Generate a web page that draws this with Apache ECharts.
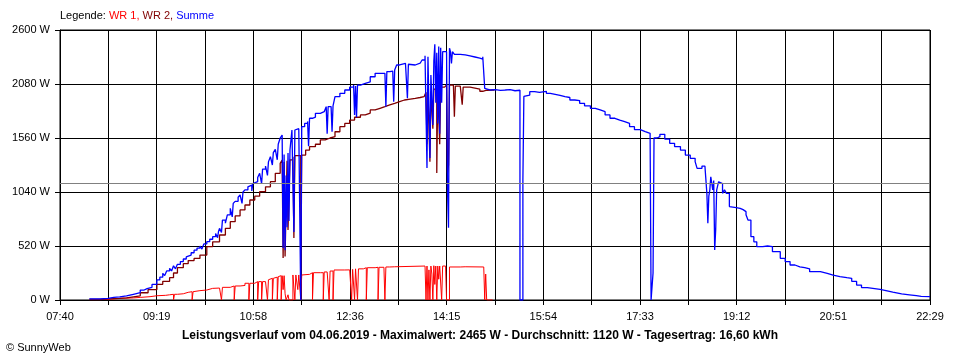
<!DOCTYPE html>
<html><head><meta charset="utf-8">
<script src="https://cdn.jsdelivr.net/npm/echarts@6/dist/echarts.min.js"></script>
<style>html,body{margin:0;padding:0;background:#fff}#c{width:960px;height:360px}</style>
</head><body><div id="c"></div>
<script>
// ---- data ----
const xTickLabels = ['07:40','09:19','10:58','12:36','14:15','15:54','17:33','19:12','20:51','22:29'];
const startTime = '07:40';
const endTime = '22:29';
const yMax = 2600;
const yStep = 520;
const averageW = 1120;
const legendParts = ['Legende: ', 'WR 1, ', 'WR 2, ', 'Summe'];
const titleText = 'Leistungsverlauf vom 04.06.2019 - Maximalwert: 2465 W - Durchschnitt: 1120 W - Tagesertrag: 16,60 kWh';
const footerText = '\u00A9 SunnyWeb';

const wr1 = [
['08:18',5],['08:29',16],['08:41',20],['08:55',25],['09:02',32],['09:12',41],['09:19',45],['09:28',50],['09:32',55],['09:36',0],['09:37',55],['09:40',60],['09:46',74],['09:51',80],['09:55',0],['09:56',80],['09:57',90],['10:03',96],['10:10',112],['10:16',115],['10:23',122],['10:25',0],['10:26',122],['10:34',135],['10:38',0],['10:39',135],['10:44',140],['10:49',161],['10:53',0],['10:54',161],['10:59',177],['11:02',0],['11:03',177],['11:06',0],['11:07',177],['11:10',190],['11:12',0],['11:13',195],['11:15',209],['11:17',0],['11:18',209],['11:20',220],['11:22',0],['11:23',225],['11:25',234],['11:26',0],['11:27',234],['11:28',100],['11:29',234],['11:30',60],['11:31',0],['11:33',50],['11:34',0],['11:38',241],['11:40',0],['11:41',241],['11:43',100],['11:44',241],['11:46',0],['11:47',241],['11:49',247],['11:55',263],['11:58',0],['11:59',263],['12:06',263],['12:09',0],['12:10',270],['12:13',279],['12:15',0],['12:16',279],['12:19',0],['12:20',289],['12:31',290],['12:36',295],['12:38',0],['12:39',295],['12:41',0],['12:42',300],['12:44',0],['12:45',300],['12:50',311],['12:53',0],['12:54',311],['13:02',315],['13:05',0],['13:06',315],['13:11',315],['13:12',0],['13:13',318],['13:17',320],['13:22',327],['13:53',327],['13:54',0],['13:55',327],['13:56',0],['13:57',290],['13:58',0],['13:59',327],['14:00',250],['14:01',0],['14:02',330],['14:03',150],['14:04',327],['14:05',0],['14:06',327],['14:07',200],['14:08',327],['14:10',0],['14:11',327],['14:14',327],['14:15',0],['14:17',0],['14:18',318],['14:29',320],['14:34',318],['14:53',318],['14:54',0],['14:55',250],['14:56',0],['15:02',0]
];

const wr2 = [
['08:10',5],['08:21',10],['08:29',15],['08:41',20],['08:48',30],['08:55',40],['09:02',70],['09:10',100],['09:19',151],['09:25',180],['09:32',215],['09:36',260],['09:40',311],['09:46',350],['09:51',380],['09:57',400],['10:03',433],['10:10',514],['10:16',560],['10:23',626],['10:29',690],['10:34',754],['10:39',810],['10:44',867],['10:49',915],['10:54',963],['10:59',1000],['11:04',1043],['11:10',1090],['11:15',1139],['11:20',1220],['11:25',1316],['11:27',1348],['11:28',404],['11:29',1330],['11:30',420],['11:32',1340],['11:33',674],['11:35',1350],['11:38',1380],['11:39',597],['11:40',1390],['11:46',0],['11:47',1396],['11:51',1444],['11:55',1476],['12:01',1500],['12:06',1541],['12:11',1560],['12:16',1573],['12:21',1620],['12:26',1669],['12:31',1700],['12:36',1733],['12:41',1760],['12:47',1782],['12:52',1800],['12:57',1830],['13:02',1846],['13:07',1862],['13:12',1880],['13:17',1894],['13:22',1910],['13:27',1926],['13:32',1935],['13:38',1942],['13:43',1950],['13:48',1958],['13:52',1974],['13:54',2000],['13:55',1500],['13:56',2000],['13:58',1332],['13:59',2010],['14:01',1650],['14:02',2030],['14:05',1223],['14:06',2040],['14:08',1500],['14:09',2050],['14:13',2060],['14:15',2070],['14:16',1220],['14:17',1300],['14:18',2070],['14:22',2070],['14:23',1765],['14:24',2060],['14:29',2054],['14:31',1880],['14:32',2050],['14:39',2040],['14:44',2030],['14:49',2010],['14:52',2020],['14:56',2022],['15:04',2022]
];

const summe = [
['08:10',10],['08:21',15],['08:29',26],['08:35',30],['08:41',40],['08:48',55],['08:55',70],['09:02',96],['09:06',110],['09:09',122],['09:14',150],['09:19',193],['09:22',220],['09:25',257],['09:27',235],['09:29',280],['09:32',305],['09:34',280],['09:36',330],['09:38',300],['09:40',344],['09:43',370],['09:46',395],['09:49',415],['09:51',433],['09:54',455],['09:57',480],['10:00',500],['10:03',520],['10:05',490],['10:07',540],['10:10',562],['10:13',585],['10:16',610],['10:19',640],['10:21',600],['10:22',660],['10:23',690],['10:25',650],['10:26',770],['10:29',740],['10:31',820],['10:34',883],['10:36',800],['10:37',930],['10:39',950],['10:42',990],['10:44',1011],['10:46',930],['10:47',1040],['10:49',1060],['10:52',1090],['10:54',1107],['10:56',1050],['10:57',1120],['10:59',1139],['11:02',1180],['11:04',1220],['11:06',1120],['11:07',1260],['11:10',1290],['11:12',1200],['11:13',1330],['11:15',1380],['11:17',1300],['11:18',1420],['11:20',1450],['11:22',1350],['11:23',1500],['11:25',1560],['11:27',1589],['11:28',500],['11:29',1400],['11:30',480],['11:31',1200],['11:32',700],['11:33',1415],['11:34',760],['11:35',1444],['11:37',1637],['11:39',655],['11:40',1637],['11:42',1650],['11:44',1660],['11:46',0],['11:47',1669],['11:50',1700],['11:53',1720],['11:54',1480],['11:55',1750],['11:58',1760],['12:01',1798],['12:06',1813],['12:10',1813],['12:12',1862],['12:13',1600],['12:14',1862],['12:17',1862],['12:18',1620],['12:19',1870],['12:21',1958],['12:26',1990],['12:31',2022],['12:36',2050],['12:40',2070],['12:41',1782],['12:42',2060],['12:43',1760],['12:44',2070],['12:47',2087],['12:52',2100],['12:57',2150],['13:02',2183],['13:07',2183],['13:12',2190],['13:13',1862],['13:14',2200],['13:17',2205],['13:20',2215],['13:21',1910],['13:22',2215],['13:24',2263],['13:27',2279],['13:33',2279],['13:35',1942],['13:36',2270],['13:38',2263],['13:43',2280],['13:48',2295],['13:50',2311],['13:53',2353],['13:55',1271],['13:56',2343],['13:58',1367],['13:59',2167],['14:01',1685],['14:02',2300],['14:03',2462],['14:04',1900],['14:05',2380],['14:06',1700],['14:07',2440],['14:08',1600],['14:09',2430],['14:10',1900],['14:11',2391],['14:15',2391],['14:16',1043],['14:17',696],['14:18',2424],['14:19',2391],['14:20',2279],['14:21',2391],['14:23',2365],['14:29',2360],['14:34',2350],['14:39',2340],['14:44',2330],['14:49',2320],['14:52',2343],['14:54',2038],['14:56',2022],['15:00',2025],['15:05',2018],['15:10',2022],['15:15',2025],['15:20',2015],['15:25',2020],['15:30',0],['15:33',1155],['15:34',1960],['15:35',1974],['15:40',2006],['15:45',2000],['15:50',2010],['15:57',1990],['16:01',1980],['16:06',1970],['16:11',1958],['16:16',1950],['16:21',1926],['16:26',1920],['16:31',1894],['16:36',1870],['16:42',1846],['16:47',1830],['16:52',1813],['16:57',1782],['17:02',1750],['17:07',1733],['17:12',1717],['17:17',1700],['17:22',1669],['17:27',1640],['17:33',1621],['17:38',1605],['17:43',1573],['17:44',0],['17:46',260],['17:47',1560],['17:50',1573],['17:53',1595],['17:58',1550],['18:03',1509],['18:08',1477],['18:14',1444],['18:19',1396],['18:24',1364],['18:29',1332],['18:31',1268],['18:36',1290],['18:39',1284],['18:41',1027],['18:42',740],['18:43',1000],['18:44',1059],['18:45',1187],['18:46',1200],['18:47',1059],['18:48',1150],['18:49',481],['18:50',674],['18:51',1059],['18:53',1139],['18:55',1120],['18:57',1027],['18:59',1060],['19:01',1027],['19:04',900],['19:06',890],['19:11',883],['19:15',870],['19:18',851],['19:21',820],['19:23',770],['19:26',610],['19:29',560],['19:32',514],['19:38',520],['19:43',514],['19:48',465],['19:56',401],['20:01',370],['20:06',337],['20:11',320],['20:16',311],['20:21',300],['20:26',273],['20:37',257],['20:44',240],['20:50',225],['20:57',215],['21:04',209],['21:09',180],['21:14',144],['21:19',120],['21:25',103],['21:38',90],['21:44',75],['21:51',58],['22:00',50],['22:08',42],['22:15',35],['22:20',32],['22:29',32]
];

// ---- build ----
const DIV = 18; // grid divisions on the time axis
const FONT = '"Liberation Sans", Arial, sans-serif';
function mins(s){ const p = s.split(':').map(Number); return p[0]*60 + p[1]; }
const t0 = mins(startTime);
const span = mins(endTime) - t0;
const toX = s => (mins(s) - t0) * DIV;
const conv = arr => arr.map(d => [toX(d[0]), d[1]]);

const chart = echarts.init(document.getElementById('c'), null, {renderer:'canvas'});
chart.setOption({
  animation: false,
  backgroundColor: '#fff',
  title: [
    { text: '{a|' + legendParts[0] + '}{b|' + legendParts[1] + '}{c|' + legendParts[2] + '}{d|' + legendParts[3] + '}',
      left: 60, top: 10, padding: 0,
      textStyle: { fontSize: 11, fontFamily: FONT, fontWeight: 'normal',
        rich: { a:{color:'#000',fontSize:11,fontFamily:FONT}, b:{color:'#ff0000',fontSize:11,fontFamily:FONT},
                c:{color:'#800000',fontSize:11,fontFamily:FONT}, d:{color:'#0000ff',fontSize:11,fontFamily:FONT} } } },
    { text: titleText, left: 'center', top: 330, padding: 0,
      textStyle: { fontSize: 12, fontWeight: 'bold', fontFamily: FONT, color: '#000' } },
    { text: footerText, left: 6, top: 342, padding: 0,
      textStyle: { fontSize: 11, fontWeight: 'normal', fontFamily: FONT, color: '#000' } }
  ],
  grid: { left: 60, right: 30, top: 30, bottom: 60, show: true, borderColor: '#000', borderWidth: 1, backgroundColor: 'transparent' },
  xAxis: {
    type: 'value', min: 0, max: span * DIV, interval: span,
    axisLine: { show: true, onZero: false, lineStyle: { color: '#000', width: 1 } },
    axisTick: { show: true, length: 5, lineStyle: { color: '#000', width: 1 } },
    splitLine: { show: true, lineStyle: { color: '#000', width: 1 } },
    axisLabel: { color: '#000', fontSize: 11, fontFamily: FONT, margin: 11, showMinLabel: true, showMaxLabel: true,
      formatter: v => { const i = Math.round(v / span); return i % 2 === 0 ? xTickLabels[i / 2] : ''; } }
  },
  yAxis: {
    type: 'value', min: 0, max: yMax, interval: yStep,
    axisLine: { show: true, lineStyle: { color: '#000', width: 1 } },
    axisTick: { show: true, length: 5, lineStyle: { color: '#000', width: 1 } },
    splitLine: { show: true, lineStyle: { color: '#000', width: 1 } },
    axisLabel: { color: '#000', fontSize: 11, fontFamily: FONT, margin: 10, formatter: v => String(v) + ' W' }
  },
  series: [
    { name: 'WR 1', type: 'line', step: 'end', showSymbol: false, data: conv(wr1),
      lineStyle: { color: '#ff0000', width: 1 }, itemStyle: { color: '#ff0000' } },
    { name: 'WR 2', type: 'line', step: 'end', showSymbol: false, data: conv(wr2),
      lineStyle: { color: '#800000', width: 1.3 }, itemStyle: { color: '#800000' } },
    { name: 'Summe', type: 'line', step: 'end', showSymbol: false, data: conv(summe),
      lineStyle: { color: '#0000ff', width: 1.3 }, itemStyle: { color: '#0000ff' },
      markLine: { silent: true, symbol: ['none','none'], label: { show: false },
        lineStyle: { color: '#808080', type: 'solid', width: 1 }, data: [{ yAxis: averageW }] } }
  ]
});
</script>
</body></html>
